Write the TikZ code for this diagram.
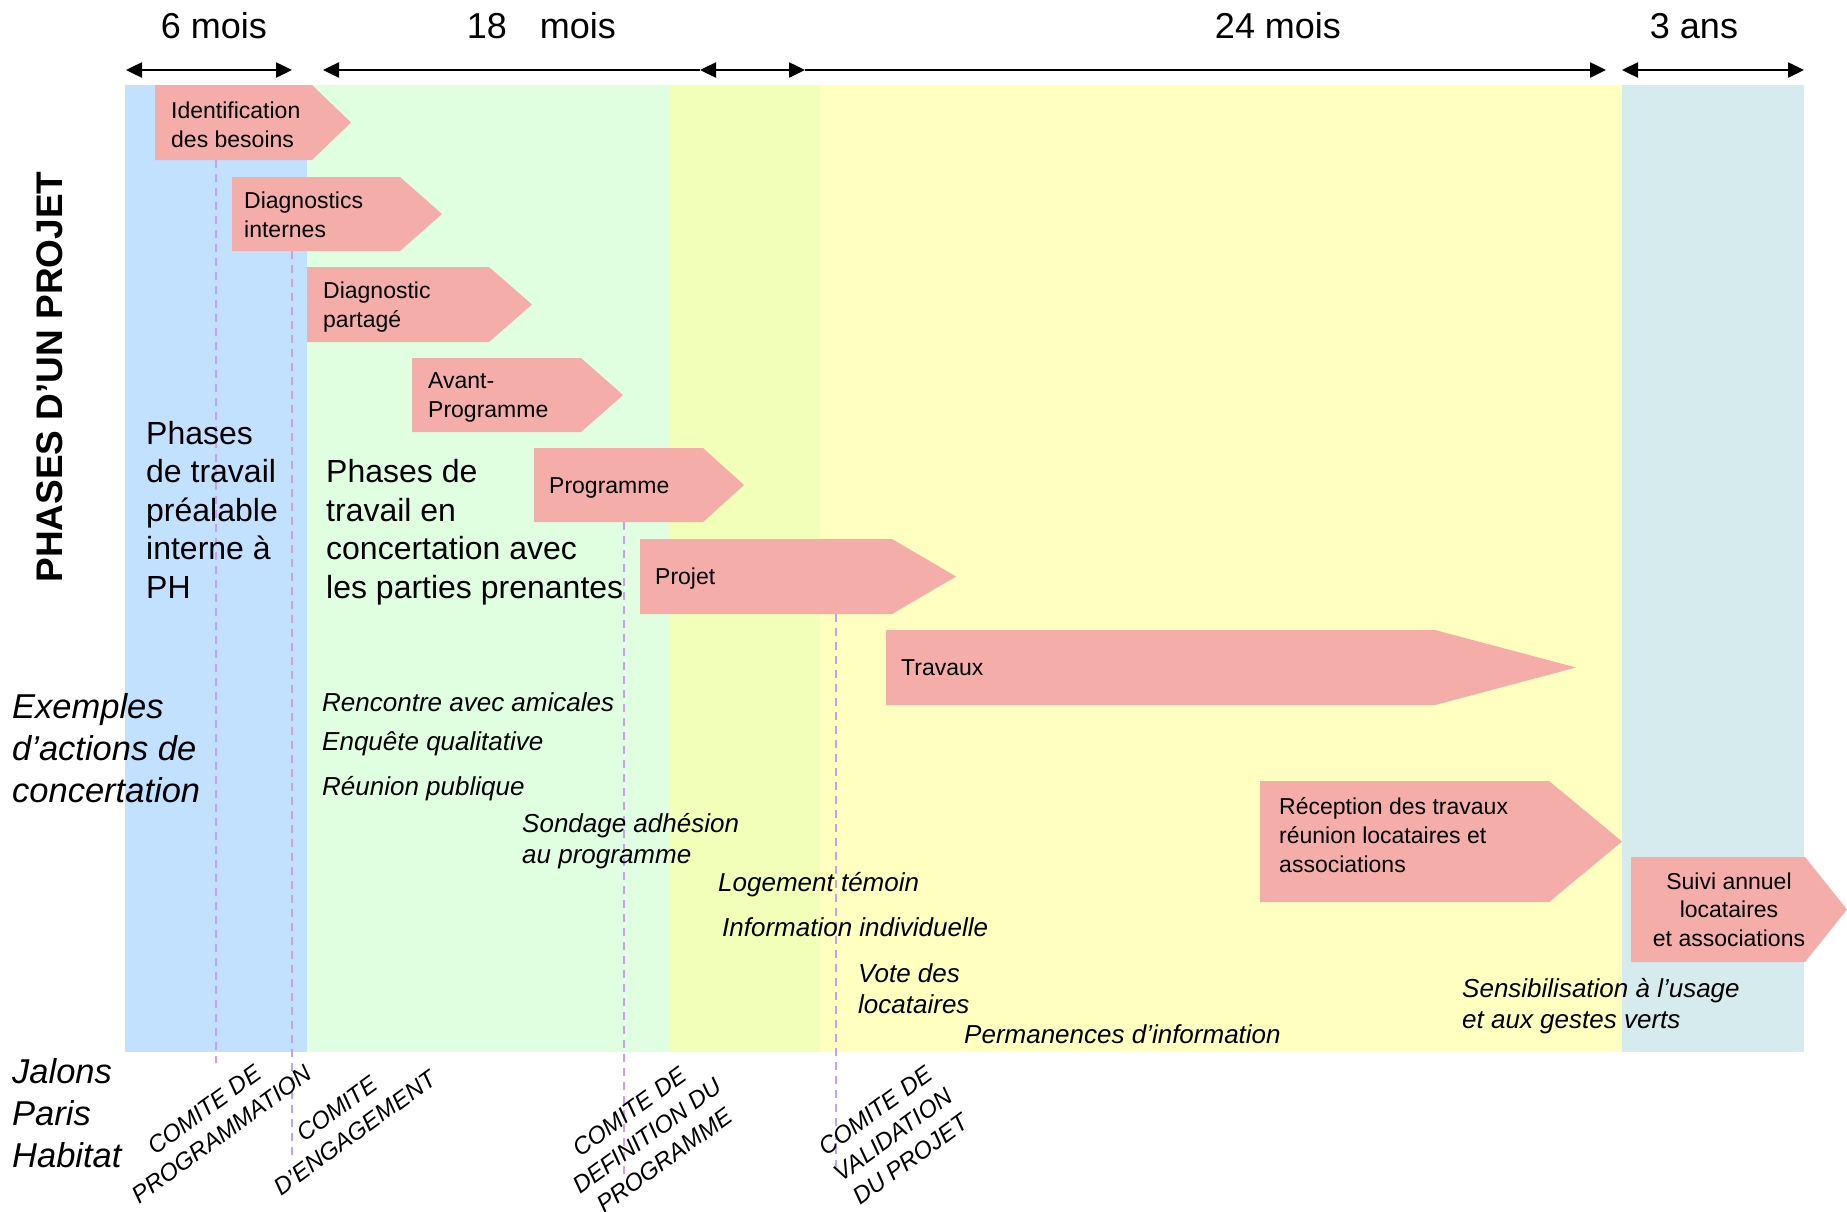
\documentclass[tikz,border=0pt]{standalone}
\usepackage{fontspec}
\setmainfont{Liberation Sans}
\usetikzlibrary{arrows.meta}
\definecolor{bandblue}{HTML}{C2E0FF}
\definecolor{bandgreen}{HTML}{E0FFE0}
\definecolor{bandlime}{HTML}{F2FFB8}
\definecolor{bandyellow}{HTML}{FFFFC0}
\definecolor{bandteal}{HTML}{D6EBEE}
\definecolor{boxpink}{HTML}{F4ADA9}
\definecolor{jaloncol}{HTML}{C99CFF}
\begin{document}
\begin{tikzpicture}[x=1pt,y=-1pt,
  phasebox/.style={fill=boxpink, draw=none},
  boxtext/.style={font=\fontsize{23}{29}\selectfont, inner sep=0pt, anchor=base west, align=left},
  durtext/.style={font=\fontsize{36}{42}\selectfont, inner sep=0pt, anchor=base},
  timeline/.style={line width=2.5pt, draw=black},
  jalonline/.style={draw=jaloncol, line width=2pt, dash pattern=on 8pt off 6pt},
  phtext/.style={font=\fontsize{32}{38.5}\selectfont, inner sep=0pt, anchor=base west, align=left},
  lefttext/.style={font=\fontsize{34.5}{42}\selectfont\itshape, inner sep=0pt, anchor=base west, align=left},
  extext/.style={font=\fontsize{26}{31}\selectfont\itshape, inner sep=0pt, anchor=base west, align=left},
  jalontext/.style={font=\fontsize{24}{30}\selectfont\itshape, inner sep=0pt, rotate=36, align=center},
  tip/.tip={Triangle[length=16pt,width=15pt]}
]
\useasboundingbox (0,0) rectangle (1847,1211);
\fill[white] (0,0) rectangle (1847,1211);

% bands
\fill[bandblue]   (125,85) rectangle (307,1052);
\fill[bandgreen]  (307,85) rectangle (670,1052);
\fill[bandlime]   (670,85) rectangle (820,1052);
\fill[bandyellow] (820,85) rectangle (1622,1052);
\fill[bandteal]   (1622,85) rectangle (1804,1052);

% duration labels
\node[durtext] (d6) at (214,38) {6 mois};
\node[durtext] (d18) at (541.5,38) {18\hspace{33pt}mois};
\node[durtext] (d24) at (1278,38) {24 mois};
\node[durtext] (d3) at (1694,38) {3 ans};

% timeline arrows
\coordinate (a1) at (126,70);
\coordinate (a2) at (292,70);
\coordinate (b1) at (323,70);
\coordinate (b2) at (700,70);
\coordinate (b3) at (805,70);
\coordinate (b4) at (1606,70);
\coordinate (c1) at (1622,70);
\coordinate (c2) at (1804,70);
\draw[timeline, {tip}-{tip}] (a1) -- (a2);
\draw[timeline, {tip}-] (b1) -- (b2);
\draw[timeline, {tip}-{tip}] (b2) -- (b3);
\draw[timeline, -{tip}] (b3) -- (b4);
\draw[timeline, {tip}-{tip}] (c1) -- (c2);

% jalon dashed lines
\coordinate (j1top) at (216,160);
\coordinate (j1bot) at (216,1063);
\coordinate (j2top) at (292,251);
\coordinate (j2bot) at (292,1155);
\coordinate (j3top) at (624,522);
\coordinate (j3bot) at (624,1175);
\coordinate (j4top) at (836,614);
\coordinate (j4bot) at (836,1167);
\draw[jalonline] (j1top) -- (j1bot);
\draw[jalonline] (j2top) -- (j2bot);
\draw[jalonline] (j3top) -- (j3bot);
\draw[jalonline] (j4top) -- (j4bot);

% phase boxes
\fill[phasebox] (155,85) -- (312,85) -- (351,122.5) -- (312,160) -- (155,160) -- cycle;
\fill[phasebox] (232,177) -- (400,177) -- (442,214) -- (400,251) -- (232,251) -- cycle;
\fill[phasebox] (307,267) -- (489,267) -- (532,304.5) -- (489,342) -- (307,342) -- cycle;
\fill[phasebox] (412,358) -- (581,358) -- (623,395) -- (581,432) -- (412,432) -- cycle;
\fill[phasebox] (534,448) -- (703,448) -- (744,485) -- (703,522) -- (534,522) -- cycle;
\fill[phasebox] (640,539) -- (892,539) -- (956,576.5) -- (892,614) -- (640,614) -- cycle;
\fill[phasebox] (886,630) -- (1435,630) -- (1576,667.5) -- (1435,705) -- (886,705) -- cycle;
\fill[phasebox] (1260,781) -- (1549,781) -- (1622,841.5) -- (1549,902) -- (1260,902) -- cycle;
\fill[phasebox] (1631,857) -- (1805,857) -- (1847,909.5) -- (1805,962) -- (1631,962) -- cycle;

% (base anchor of a multi-line node = baseline of its last line)
\node[boxtext] (p1) at (171,147) {Identification\\des besoins};
\node[boxtext] (p2) at (244,237) {Diagnostics\\internes};
\node[boxtext] (p3) at (323,327) {Diagnostic\\partagé};
\node[boxtext] (p4) at (428,417) {Avant-\\Programme};
\node[boxtext] (p5) at (549,493) {Programme};
\node[boxtext] (p6) at (655,584) {Projet};
\node[boxtext] (p7) at (901,675) {Travaux};
\node[boxtext] (p8) at (1279,872) {Réception des travaux\\réunion locataires et\\associations};
\node[boxtext, font=\fontsize{23}{28.5}\selectfont, anchor=base, align=center] (p9) at (1729,946) {Suivi annuel\\locataires\\et associations};

% big texts
\node[font=\fontsize{37}{44}\selectfont\bfseries, rotate=90, inner sep=0pt] (title) at (49.5,377) {PHASES D’UN PROJET};
\node[phtext] (ph1) at (146,598) {Phases\\de travail\\préalable\\interne à\\PH};
\node[phtext] (ph2) at (326,598) {Phases de\\travail en\\concertation avec\\les parties prenantes};
\node[lefttext] (ex) at (12,802) {Exemples\\d’actions de\\concertation};
\node[lefttext] (jal) at (12,1167) {Jalons\\Paris\\Habitat};

% examples
\node[extext] (e1) at (322,711) {Rencontre avec amicales};
\node[extext] (e2) at (322,750) {Enquête qualitative};
\node[extext] (e3) at (322,795) {Réunion publique};
\node[extext] (e4) at (522,863) {Sondage adhésion\\au programme};
\node[extext] (e5) at (718,891) {Logement témoin};
\node[extext] (e6) at (722,936) {Information individuelle};
\node[extext] (e7) at (858,1013) {Vote des\\locataires};
\node[extext] (e8) at (964,1043) {Permanences d’information};
\node[extext] (e9) at (1462,1028) {Sensibilisation à l’usage\\et aux gestes verts};

% jalons
\node[jalontext] (jl1) at (213,1122) {COMITE DE\\PROGRAMMATION};
\node[jalontext] (jl2) at (346,1121) {COMITE\\D’ENGAGEMENT};
\node[jalontext] (jl3) at (647,1136) {COMITE DE\\DEFINITION DU\\PROGRAMME};
\node[jalontext] (jl4) at (893,1135) {COMITE DE\\VALIDATION\\DU PROJET};
\end{tikzpicture}
\end{document}
